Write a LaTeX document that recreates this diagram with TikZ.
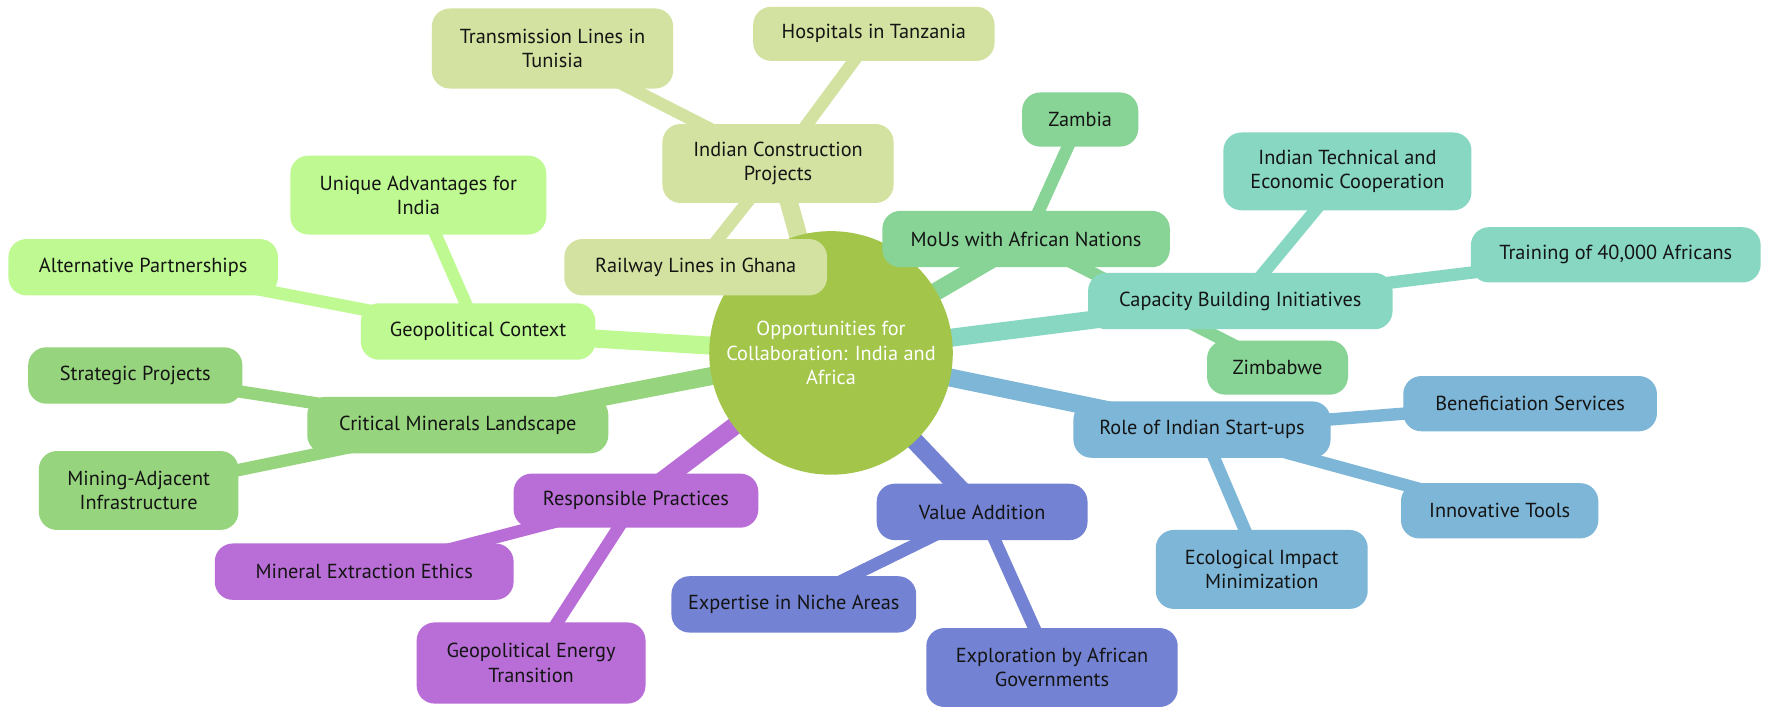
\documentclass[tikz,border=0pt]{standalone}
\usepackage{fontspec}
\setmainfont{PT Sans}
\usetikzlibrary{shapes.geometric}
\pgfdeclarelayer{bg}
\pgfsetlayers{bg,main}
\definecolor{cRoot}{RGB}{162,197,74}
\definecolor{cICP}{RGB}{211,226,160}
\definecolor{cMOU}{RGB}{135,212,150}
\definecolor{cCBI}{RGB}{135,215,195}
\definecolor{cRIS}{RGB}{125,182,215}
\definecolor{cVA}{RGB}{115,130,210}
\definecolor{cRP}{RGB}{185,110,215}
\definecolor{cCML}{RGB}{150,212,125}
\definecolor{cGC}{RGB}{190,250,145}
\definecolor{cTxt}{RGB}{20,20,20}
\tikzset{
  box/.style={rectangle, rounded corners=16pt, inner sep=0pt, align=center,
    font=\fontsize{18}{21.5}\selectfont, text=cTxt},
  rootnode/.style={circle, fill=cRoot, minimum size=216pt, inner sep=0pt, align=center,
    font=\fontsize{18}{21.5}\selectfont, text=white},
  eone/.style={line width=16pt},
  etwo/.style={line width=11pt},
}
\newcommand{\bx}[6]{\node[box, fill=#1, minimum width=#4pt, minimum height=#5pt] (#2) at #3 {#6};}
\begin{document}
\begin{tikzpicture}[x=1pt,y=-1pt]
\useasboundingbox (0,0) rectangle (1568,628.8);
\begin{pgfonlayer}{bg}
\fill[white] (0,0) rectangle (1568,628.8);
\end{pgfonlayer}
\node[rootnode] (root) at (737,313) {Opportunities for\\Collaboration: India and\\Africa};
\bx{cICP}{icp}{(690,145)}{205}{70}{Indian Construction\\Projects}
\bx{cICP}{tun}{(490,43)}{214}{71}{Transmission Lines in\\Tunisia}
\bx{cICP}{hos}{(775,30)}{214}{48}{Hospitals in Tanzania}
\bx{cICP}{rai}{(617,237)}{233}{50}{Railway Lines in Ghana}
\bx{cMOU}{mou}{(910,212)}{255}{50}{MoUs with African Nations}
\bx{cMOU}{zam}{(958,106)}{103}{48}{Zambia}
\bx{cMOU}{zim}{(1133,326)}{125}{48}{Zimbabwe}
\bx{cCBI}{cbi}{(1100,267)}{270}{50}{Capacity Building Initiatives}
\bx{cCBI}{itec}{(1195,152)}{220}{69}{Indian Technical and\\Economic Cooperation}
\bx{cCBI}{tra}{(1433,226)}{257}{49}{Training of 40,000 Africans}
\bx{cRIS}{ris}{(1066,381)}{228}{50}{Role of Indian Start-ups}
\bx{cRIS}{ben}{(1357,358)}{225}{49}{Beneficiation Services}
\bx{cRIS}{inn}{(1330,453)}{175}{49}{Innovative Tools}
\bx{cRIS}{eco}{(1119,505)}{188}{70}{Ecological Impact\\Minimization}
\bx{cVA}{va}{(871,454)}{187}{50}{Value Addition}
\bx{cVA}{exp}{(704,536)}{217}{50}{Expertise in Niche Areas}
\bx{cVA}{expl}{(933,592)}{223}{70}{Exploration by African\\Governments}
\bx{cRP}{rp}{(564,444)}{217}{48}{Responsible Practices}
\bx{cRP}{mee}{(323,507)}{265}{50}{Mineral Extraction Ethics}
\bx{cRP}{get}{(471,588)}{203}{72}{Geopolitical Energy\\Transition}
\bx{cCML}{cml}{(406,377)}{267}{50}{Critical Minerals Landscape}
\bx{cCML}{sp}{(120,333)}{190}{50}{Strategic Projects}
\bx{cCML}{mai}{(123,435)}{177}{70}{Mining-Adjacent\\Infrastructure}
\bx{cGC}{gc}{(424,294)}{208}{50}{Geopolitical Context}
\bx{cGC}{ua}{(371,173)}{227}{70}{Unique Advantages for\\India}
\bx{cGC}{alt}{(127,237)}{239}{50}{Alternative Partnerships}
\begin{pgfonlayer}{bg}
\draw[eone,cICP] (root.center) -- (icp.center);
\draw[etwo,cICP] (icp.center) -- (tun.center);
\draw[etwo,cICP] (icp.center) -- (hos.center);
\draw[etwo,cICP] (icp.center) -- (rai.center);
\draw[eone,cMOU] (root.center) -- (mou.center);
\draw[etwo,cMOU] (mou.center) -- (zam.center);
\draw[etwo,cMOU] (mou.center) -- (zim.center);
\draw[eone,cCBI] (root.center) -- (cbi.center);
\draw[etwo,cCBI] (cbi.center) -- (itec.center);
\draw[etwo,cCBI] (cbi.center) -- (tra.center);
\draw[eone,cRIS] (root.center) -- (ris.center);
\draw[etwo,cRIS] (ris.center) -- (ben.center);
\draw[etwo,cRIS] (ris.center) -- (inn.center);
\draw[etwo,cRIS] (ris.center) -- (eco.center);
\draw[eone,cVA] (root.center) -- (va.center);
\draw[etwo,cVA] (va.center) -- (exp.center);
\draw[etwo,cVA] (va.center) -- (expl.center);
\draw[eone,cRP] (root.center) -- (rp.center);
\draw[etwo,cRP] (rp.center) -- (mee.center);
\draw[etwo,cRP] (rp.center) -- (get.center);
\draw[eone,cCML] (root.center) -- (cml.center);
\draw[etwo,cCML] (cml.center) -- (sp.center);
\draw[etwo,cCML] (cml.center) -- (mai.center);
\draw[eone,cGC] (root.center) -- (gc.center);
\draw[etwo,cGC] (gc.center) -- (ua.center);
\draw[etwo,cGC] (gc.center) -- (alt.center);
\end{pgfonlayer}
\end{tikzpicture}
\end{document}
